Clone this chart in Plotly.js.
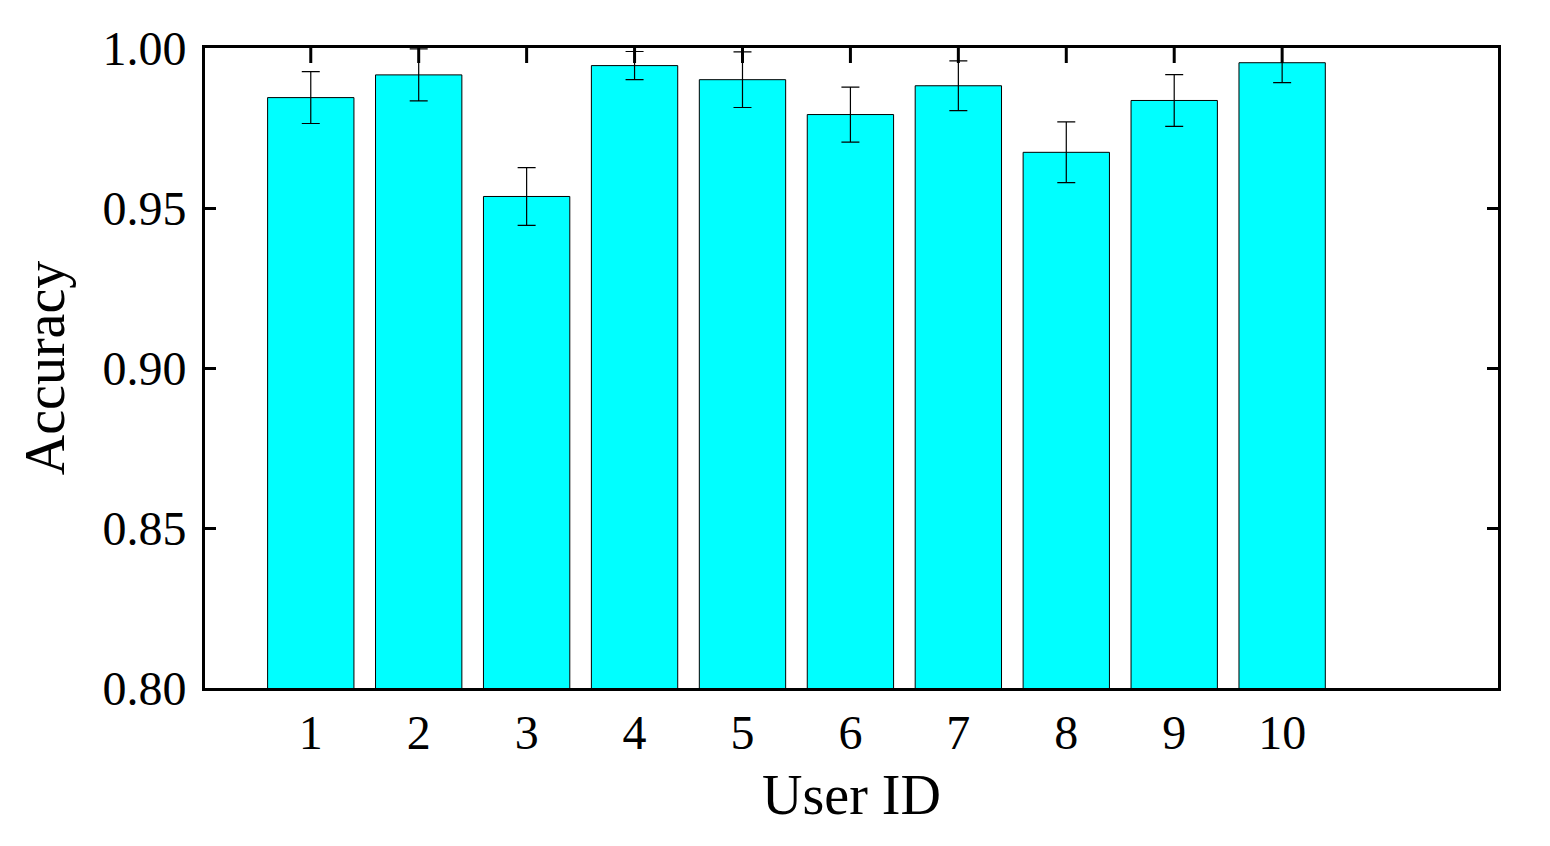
<!DOCTYPE html>
<html>
<head>
<meta charset="utf-8">
<script src="https://cdn.plot.ly/plotly-3.0.1.min.js"></script>
<style>
  html, body { margin: 0; padding: 0; background: #ffffff; }
  #chart { width: 1550px; height: 846px; }
</style>
</head>
<body>
<div id="chart"></div>
<script>
const CHART = document.getElementById('chart');

// values
const userIds = [1, 2, 3, 4, 5, 6, 7, 8, 9, 10];
const accuracy = [0.9845, 0.9916, 0.9536, 0.9945, 0.9901, 0.9792, 0.9882, 0.9674, 0.9836, 0.9954];
const accuracyErr = [0.0081, 0.0081, 0.0090, 0.0044, 0.0087, 0.0086, 0.0078, 0.0095, 0.0081, 0.0062];
const yTicks = [0.80, 0.85, 0.90, 0.95, 1.00];
const yTickText = ['0.80', '0.85', '0.90', '0.95', '1.00'];

const FONT = '"Liberation Serif", "Times New Roman", serif';
const X_RANGE = [0.02, 12];

/**
 * Inward tick marks on the top edge of the box, one per user.
 * @param {Array} ids
 */
function top_ticks(ids) {
    return ids.map((id) => ({
        type: 'line',
        xref: 'x',
        x0: id,
        x1: id,
        yref: 'paper',
        ysizemode: 'pixel',
        yanchor: 1,
        y0: 0,
        y1: -15,
        line: { color: '#000000', width: 3 },
        layer: 'above'
    }));
}

function draw() {
    const trace = [{
        type: 'bar',
        x: userIds,
        y: accuracy,
        width: 0.8,
        marker: {
            color: '#00ffff',
            line: { color: '#000000', width: 1 }
        },
        error_y: {
            type: 'data',
            array: accuracyErr,
            visible: true,
            color: '#000000',
            thickness: 1.2,
            width: 9
        },
        hoverinfo: 'none'
    }];

    const layout = {
        width: 1550,
        height: 846,
        showlegend: false,
        paper_bgcolor: '#ffffff',
        plot_bgcolor: 'rgba(0,0,0,0)',
        font: { family: FONT, color: '#000000', size: 48 },
        margin: { l: 205, r: 52, t: 48, b: 158, pad: 0 },
        xaxis: {
            range: X_RANGE,
            tickvals: userIds,
            ticktext: userIds.map(String),
            ticks: '',
            showline: true,
            linewidth: 3,
            linecolor: '#000000',
            mirror: true,
            showgrid: false,
            zeroline: false,
            // bars sit on top of the bottom edge, as in the original
            layer: 'below traces',
            ticklabelstandoff: 0,
            tickfont: { family: FONT, size: 48 },
            title: { text: 'User ID', font: { family: FONT, size: 56 }, standoff: 18 }
        },
        yaxis: {
            range: [0.8, 1.0],
            tickvals: yTicks,
            ticktext: yTickText,
            ticks: 'inside',
            ticklen: 11,
            tickwidth: 3,
            tickcolor: '#000000',
            showline: true,
            linewidth: 3,
            linecolor: '#000000',
            mirror: 'ticks',
            showgrid: false,
            zeroline: false,
            ticklabelstandoff: 6,
            tickfont: { family: FONT, size: 48 },
            title: { text: 'Accuracy', font: { family: FONT, size: 56 }, standoff: 20 }
        },
        shapes: top_ticks(userIds)
    };

    Plotly.newPlot(CHART, trace, layout, { staticPlot: true });
}

draw();
</script>
</body>
</html>
